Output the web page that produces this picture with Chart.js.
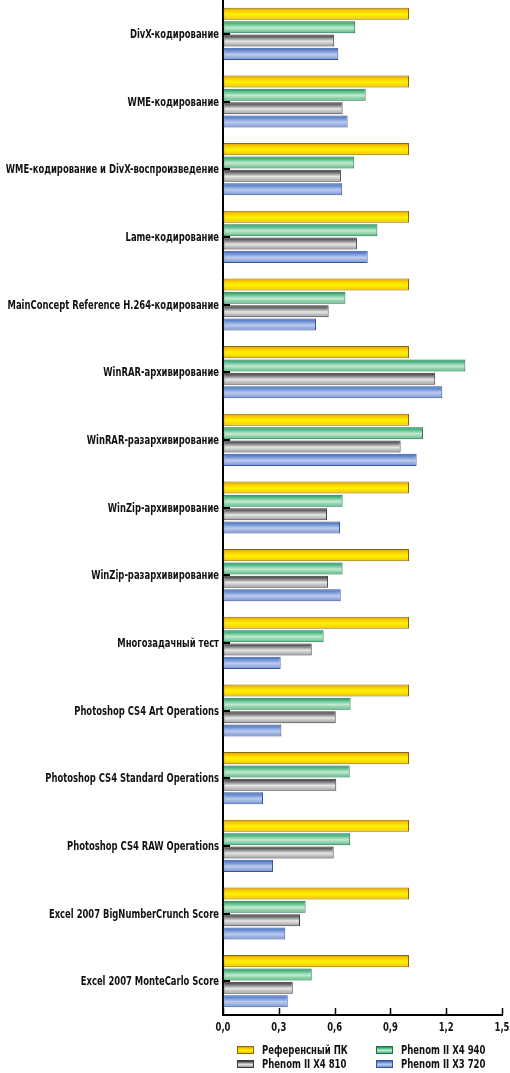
<!DOCTYPE html>
<html>
<head>
<meta charset="utf-8">
<script src="https://cdn.jsdelivr.net/npm/chart.js@4.4.1/dist/chart.umd.min.js"></script>
<style>
    html, body { margin: 0; padding: 0; background: #fff; }
    #wrap { position: relative; width: 510px; height: 1073px; }
    #box { position: absolute; left: 0; top: 0; width: 510px; height: 1045px; }
    #legend { position: absolute; left: 0; top: 1042px; width: 510px; height: 30px;
        font: bold 12px "DejaVu Sans Condensed", sans-serif; color: #111; }
    .item { position: absolute; height: 14px; line-height: 14px; white-space: nowrap; }
    .sw { position: absolute; left: 0; top: 3px; width: 17px; height: 8px;
        box-sizing: border-box; border: 1px solid #666; }
    .txt { position: absolute; left: 25px; top: 0; display: inline-block;
        transform: scaleX(0.79); transform-origin: 0 50%; }
</style>
</head>
<body>
<div id="wrap">
    <div id="box"><canvas id="c"></canvas></div>
    <div id="legend"></div>
</div>
<script>
    'use strict';

    const categories = [
        'DivX-кодирование',
        'WME-кодирование',
        'WME-кодирование и DivX-воспроизведение',
        'Lame-кодирование',
        'MainConcept Reference H.264-кодирование',
        'WinRAR-архивирование',
        'WinRAR-разархивирование',
        'WinZip-архивирование',
        'WinZip-разархивирование',
        'Многозадачный тест',
        'Photoshop CS4 Art Operations',
        'Photoshop CS4 Standard Operations',
        'Photoshop CS4 RAW Operations',
        'Excel 2007 BigNumberCrunch Score',
        'Excel 2007 MonteCarlo Score'
    ];

    const seriesNames = ['Референсный ПК', 'Phenom II X4 940', 'Phenom II X4 810', 'Phenom II X3 720'];

    const refPc   = [1, 1, 1, 1, 1, 1, 1, 1, 1, 1, 1, 1, 1, 1, 1];
    const x4_940  = [0.711, 0.767, 0.706, 0.83, 0.658, 1.303, 1.075, 0.643, 0.643, 0.541, 0.686, 0.681, 0.684, 0.444, 0.477];
    const x4_810  = [0.598, 0.643, 0.634, 0.72, 0.568, 1.141, 0.955, 0.559, 0.565, 0.477, 0.606, 0.609, 0.595, 0.414, 0.375];
    const x3_720  = [0.62, 0.67, 0.641, 0.778, 0.5, 1.179, 1.041, 0.629, 0.633, 0.31, 0.314, 0.215, 0.269, 0.335, 0.348];

    const xTicks = [0, 0.3, 0.6, 0.9, 1.2, 1.5];

    const LABEL_FONT = 'bold 12px "DejaVu Sans Condensed", sans-serif';
    const SQUEEZE = 0.78;   // the original type is much narrower than anything installed

    // top -> mid -> bottom stops, border
    const palettes = [
        { stops: ['#e59a00', '#f9d400', '#fff200', '#f4c400'], border: '#8a6a10' },
        { stops: ['#14925a', '#6cc797', '#c4ead0', '#55b882'], border: '#1b6e46' },
        { stops: ['#2a2a2a', '#8a8a8a', '#e6e6e6', '#9a9a9a'], border: '#3a3a3a' },
        { stops: ['#3566b8', '#7d9bd8', '#bccbef', '#7893d2'], border: '#34559a' }
    ];

    // give every bar a vertical gradient once its geometry is known
    const gradientPlugin = {
        id: 'barGradient',
        beforeDatasetDraw(chart, args) {
            const ctx = chart.ctx;
            const pal = palettes[args.index];
            args.meta.data.forEach(function (el) {
                const top = el.y - el.height / 2;
                const g = ctx.createLinearGradient(0, top, 0, top + el.height);
                g.addColorStop(0, pal.stops[0]);
                g.addColorStop(0.3, pal.stops[1]);
                g.addColorStop(0.55, pal.stops[2]);
                g.addColorStop(1, pal.stops[3]);
                el.options = Object.assign({}, el.options, { backgroundColor: g });
            });
        }
    };

    // inward tick marks plus squeezed tick labels
    const axisPlugin = {
        id: 'axisDecor',
        afterDraw(chart) {
            const ctx = chart.ctx;
            const xs = chart.scales.x;
            const ys = chart.scales.y;
            const area = chart.chartArea;
            ctx.save();
            ctx.strokeStyle = '#000';
            ctx.lineWidth = 1.5;
            xs.ticks.forEach(function (t, i) {
                const px = Math.round(xs.getPixelForTick(i)) + 0.5;
                ctx.beginPath();
                ctx.moveTo(px, area.bottom - 7);
                ctx.lineTo(px, area.bottom);
                ctx.stroke();
            });
            ctx.lineWidth = 2;
            ys.ticks.forEach(function (t, i) {
                const py = Math.round(ys.getPixelForTick(i));
                ctx.beginPath();
                ctx.moveTo(area.left, py);
                ctx.lineTo(area.left + 7, py);
                ctx.stroke();
            });

            ctx.font = LABEL_FONT;
            ctx.fillStyle = '#111';
            ctx.textBaseline = 'middle';
            ctx.textAlign = 'right';
            ys.ticks.forEach(function (t, i) {
                ctx.save();
                ctx.translate(area.left - 4, ys.getPixelForTick(i) + 1);
                ctx.scale(SQUEEZE, 1);
                ctx.fillText(t.label, 0, 0);
                ctx.restore();
            });
            ctx.textAlign = 'center';
            xs.ticks.forEach(function (t, i) {
                ctx.save();
                ctx.translate(xs.getPixelForTick(i), area.bottom + 13);
                ctx.scale(SQUEEZE, 1);
                ctx.fillText(t.label, 0, 0);
                ctx.restore();
            });
            ctx.restore();
        }
    };

    const values = [refPc, x4_940, x4_810, x3_720];

    const datasets = seriesNames.map(function (name, i) {
        return {
            label: name,
            data: values[i],
            backgroundColor: palettes[i].stops[1],
            borderColor: palettes[i].border,
            borderWidth: 1,
            borderSkipped: false,
            categoryPercentage: 0.79,
            barPercentage: 0.9
        };
    });

    new Chart(document.getElementById('c').getContext('2d'), {
        type: 'bar',
        data: { labels: categories, datasets: datasets },
        options: {
            indexAxis: 'y',
            responsive: true,
            maintainAspectRatio: false,
            animation: false,
            layout: { padding: 0 },
            plugins: {
                legend: { display: false },
                tooltip: { enabled: false }
            },
            scales: {
                x: {
                    min: 0,
                    max: 1.5,
                    afterBuildTicks(scale) {
                        scale.ticks = xTicks.map(function (v) { return { value: v }; });
                    },
                    afterFit(scale) {
                        scale.height = 30;
                        scale.paddingLeft = 0;
                        scale.paddingRight = 8;
                    },
                    grid: { display: true, drawOnChartArea: false, drawTicks: false },
                    border: { display: true, color: '#000', width: 2 },
                    ticks: {
                        display: false,
                        callback: function (v) { return v.toFixed(1).replace('.', ','); }
                    }
                },
                y: {
                    afterFit(scale) {
                        scale.width = 223;
                        scale.paddingTop = 0;
                        scale.paddingBottom = 0;
                    },
                    grid: { display: true, drawOnChartArea: false, drawTicks: false },
                    border: { display: true, color: '#000', width: 2 },
                    ticks: { display: false }
                }
            }
        },
        plugins: [gradientPlugin, axisPlugin]
    });

    // legend: two columns, series order Ref, 940 / 810, 720
    const legendSlots = [
        { left: 237, top: 1 },
        { left: 376, top: 1 },
        { left: 237, top: 15 },
        { left: 376, top: 15 }
    ];
    const legend = document.getElementById('legend');
    seriesNames.forEach(function (name, i) {
        const item = document.createElement('div');
        item.className = 'item';
        item.style.left = legendSlots[i].left + 'px';
        item.style.top = legendSlots[i].top + 'px';
        const sw = document.createElement('span');
        sw.className = 'sw';
        const s = palettes[i].stops;
        sw.style.background = 'linear-gradient(' + s[0] + ',' + s[1] + ' 30%,' + s[2] + ' 55%,' + s[3] + ')';
        sw.style.borderColor = palettes[i].border;
        const txt = document.createElement('span');
        txt.className = 'txt';
        txt.textContent = name;
        item.appendChild(sw);
        item.appendChild(txt);
        legend.appendChild(item);
    });
</script>
</body>
</html>
